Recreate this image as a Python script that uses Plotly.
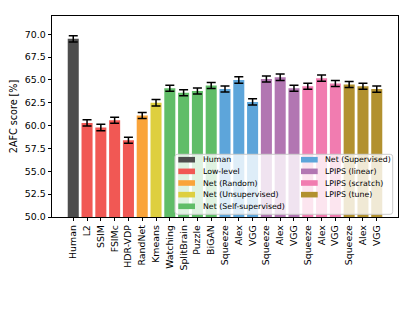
import plotly.graph_objects as go

# ---- data ----
labels = ["Human", "L2", "SSIM", "FSIMc", "HDR-VDP", "RandNet", "Kmeans",
          "Watching", "SplitBrain", "Puzzle", "BiGAN",
          "Squeeze", "Alex", "VGG", "Squeeze", "Alex", "VGG",
          "Squeeze", "Alex", "VGG", "Squeeze", "Alex", "VGG"]
scores = [69.5, 60.3, 59.8, 60.6, 58.4, 61.1, 62.5,
          64.1, 63.6, 63.8, 64.4,
          64.0, 65.0, 62.6, 65.1, 65.3, 64.1,
          64.3, 65.2, 64.6, 64.5, 64.3, 64.0]
errors = [0.35, 0.35, 0.35, 0.33, 0.33, 0.33, 0.35,
          0.33, 0.33, 0.33, 0.33,
          0.33, 0.35, 0.33, 0.33, 0.35, 0.33,
          0.33, 0.35, 0.33, 0.33, 0.33, 0.35]
group_names = ["Human", "Low-level", "Net (Random)", "Net (Unsupervised)",
               "Net (Self-supervised)", "Net (Supervised)", "LPIPS (linear)",
               "LPIPS (scratch)", "LPIPS (tune)"]
group_sizes = [1, 4, 1, 1, 4, 3, 3, 3, 3]
group_colors = ["#4D4D4D", "#F15854", "#FAA43A", "#DECF3F", "#60BD68",
                "#5DA5DA", "#B276B2", "#F17CB0", "#B2912F"]
yticks = [50.0, 52.5, 55.0, 57.5, 60.0, 62.5, 65.0, 67.5, 70.0]

FONT = "DejaVu Sans"
fig = go.Figure()
start = 0
for name, n, col in zip(group_names, group_sizes, group_colors):
    xs = list(range(start, start + n))
    fig.add_trace(go.Bar(
        x=xs, y=[scores[i] for i in xs], width=0.8, name=name,
        marker=dict(color=col, line=dict(width=0)),
        error_y=dict(type="data", array=[errors[i] for i in xs], color="black",
                     thickness=1.5, width=4.5),
        showlegend=False))
    start += n

# ---- geometry (pixels, page coordinates; page body has an 8px margin) ----
OFF = 8
W, H = 415 - OFF, 312 - OFF
L, R, T, B = 52, 398, 16, 217   # plot area in page pixels
pw, ph = R - L, B - T

def px_x(x):
    return (x - L) / pw

def px_y(y):
    return (B - y) / ph

# legend box (semi-transparent, like matplotlib framealpha=0.8)
bx0, bx1, by0, by1, r = 175, 392.7, 154.3, 214.3, 2.5
rx, ry = r / pw, r / ph
X0, X1, Y0, Y1 = px_x(bx0), px_x(bx1), px_y(by1), px_y(by0)
path = (f"M {X0+rx},{Y0} L {X1-rx},{Y0} Q {X1},{Y0} {X1},{Y0+ry} "
        f"L {X1},{Y1-ry} Q {X1},{Y1} {X1-rx},{Y1} L {X0+rx},{Y1} "
        f"Q {X0},{Y1} {X0},{Y1-ry} L {X0},{Y0+ry} Q {X0},{Y0} {X0+rx},{Y0} Z")
shapes = [dict(type="path", xref="paper", yref="paper", path=path,
               fillcolor="rgba(255,255,255,0.8)",
               line=dict(color="#cccccc", width=1), layer="above")]
annotations = []
col_sw = [178.3, 301.0]
col_tx = [201.0, 323.3]
row0, drow = 159.7, 11.65
for k, (name, col) in enumerate(zip(group_names, group_colors)):
    c = 0 if k < 5 else 1
    rr = k if k < 5 else k - 5
    yc = row0 + rr * drow
    shapes.append(dict(type="rect", xref="paper", yref="paper",
                       x0=px_x(col_sw[c]), x1=px_x(col_sw[c] + 16.7),
                       y0=px_y(yc + 2.8), y1=px_y(yc - 2.8),
                       fillcolor=col, line=dict(width=0), layer="above"))
    annotations.append(dict(xref="paper", yref="paper", x=px_x(col_tx[c]), y=px_y(yc),
                            text=name, showarrow=False, xanchor="left", yanchor="middle",
                            font=dict(family=FONT, size=7.8, color="black")))

fig.update_layout(
    width=W, height=H,
    margin=dict(l=L - OFF, r=W - (R - OFF), t=T - OFF, b=H - (B - OFF), autoexpand=False),
    paper_bgcolor="white", plot_bgcolor="white",
    font=dict(family=FONT, size=9.4, color="black"),
    shapes=shapes, annotations=annotations,
    showlegend=False,
)
fig.update_xaxes(
    range=[-1.54, 23.54], tickmode="array", tickvals=list(range(len(labels))),
    ticktext=labels, tickangle=-90, ticks="outside", ticklen=3.5, tickwidth=0.8,
    tickcolor="black", showline=True, linecolor="black", linewidth=0.8,
    mirror=True, showgrid=False, zeroline=False,
    tickfont=dict(family=FONT, size=9.4, color="black"))
fig.update_yaxes(
    range=[50, 72.0], tickmode="array", tickvals=yticks,
    ticktext=[f"{v:.1f}" for v in yticks], ticks="outside", ticklen=3.5,
    tickwidth=0.8, tickcolor="black", showline=True, linecolor="black",
    linewidth=0.8, mirror=True, showgrid=False, zeroline=False,
    title=dict(text="2AFC score [%]", standoff=6,
               font=dict(family=FONT, size=9.6, color="black")),
    tickfont=dict(family=FONT, size=9.4, color="black"))

fig.write_html("out.html")
